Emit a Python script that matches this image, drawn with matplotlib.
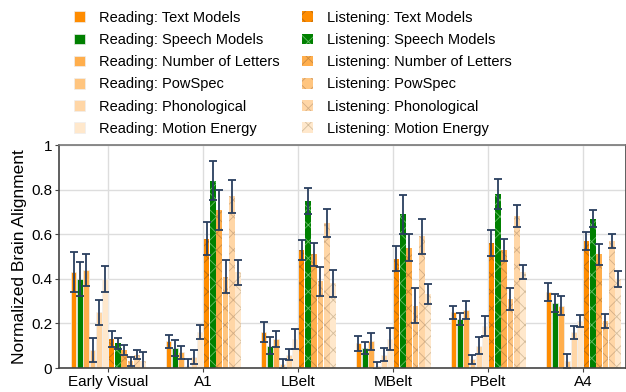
import numpy as np
import matplotlib
matplotlib.use('Agg')
import matplotlib.pyplot as plt
from matplotlib.patches import Patch

plt.rcParams['font.family'] = ['Liberation Sans', 'DejaVu Sans']
plt.rcParams['hatch.linewidth'] = 0.6

# Data
regions = ['Early Visual', 'A1', 'LBelt', 'MBelt', 'PBelt', 'A4']
features = ['Text Models', 'Speech Models', 'Number of Letters',
            'PowSpec', 'Phonological', 'Motion Energy']

# rows = feature, cols = region
reading_vals = [
    [0.43, 0.12, 0.16, 0.11, 0.25, 0.34],
    [0.40, 0.09, 0.10, 0.09, 0.22, 0.29],
    [0.44, 0.07, 0.13, 0.12, 0.26, 0.28],
    [0.08, 0.01, 0.02, 0.01, 0.04, 0.03],
    [0.25, 0.05, 0.06, 0.06, 0.10, 0.16],
    [0.40, 0.16, 0.13, 0.13, 0.19, 0.21],
]
reading_err = [
    [0.09, 0.03, 0.045, 0.034, 0.03, 0.041],
    [0.075, 0.034, 0.037, 0.026, 0.025, 0.041],
    [0.073, 0.03, 0.037, 0.039, 0.04, 0.041],
    [0.055, 0.03, 0.02, 0.015, 0.02, 0.032],
    [0.056, 0.03, 0.023, 0.028, 0.038, 0.03],
    [0.058, 0.032, 0.044, 0.048, 0.045, 0.026],
]
listening_vals = [
    [0.13, 0.58, 0.53, 0.49, 0.56, 0.57],
    [0.11, 0.84, 0.75, 0.69, 0.78, 0.67],
    [0.08, 0.71, 0.51, 0.54, 0.53, 0.51],
    [0.03, 0.41, 0.39, 0.28, 0.31, 0.21],
    [0.06, 0.77, 0.65, 0.59, 0.68, 0.57],
    [0.03, 0.43, 0.38, 0.33, 0.43, 0.40],
]
listening_err = [
    [0.034, 0.074, 0.045, 0.055, 0.058, 0.041],
    [0.025, 0.088, 0.059, 0.088, 0.066, 0.038],
    [0.023, 0.089, 0.051, 0.062, 0.05, 0.047],
    [0.019, 0.073, 0.065, 0.077, 0.048, 0.032],
    [0.02, 0.073, 0.064, 0.078, 0.049, 0.03],
    [0.04, 0.056, 0.06, 0.045, 0.03, 0.035],
]

colors = ['#ff8c00', '#008000', '#ffae4c', '#ffc57f', '#ffd6a6', '#ffe8cc']
hatch_colors = ['#b86a10', '#66bb66', '#c98a40', '#cc9a66', '#d2ad85', '#d4bd9c']

fig = plt.figure(figsize=(6.26, 3.92), dpi=100)
ax = fig.add_axes([59 / 626, 24 / 392, 567 / 626, 223 / 392])

x = np.arange(len(regions))
n_bars = 12
slot = 0.8 / n_bars
bw = slot * 0.92
err_kw = dict(ecolor='#2a3f5f', elinewidth=1.3, capsize=3, capthick=1.3)

handles = []
for i, f in enumerate(features):
    off = (i - n_bars / 2 + 0.5) * slot
    ax.bar(x + off, reading_vals[i], bw, color=colors[i],
           edgecolor='#eeeeee', linewidth=0.5, zorder=2,
           yerr=reading_err[i], error_kw=err_kw)
    handles.append(Patch(facecolor=colors[i], edgecolor='#eeeeee',
                         linewidth=0.5, label='Reading: ' + f))
for i, f in enumerate(features):
    off = (i + 6 - n_bars / 2 + 0.5) * slot
    ax.bar(x + off, listening_vals[i], bw, color=colors[i],
           edgecolor=hatch_colors[i], linewidth=0, hatch='xx', zorder=2,
           yerr=listening_err[i], error_kw=err_kw)
    handles.append(Patch(facecolor=colors[i], edgecolor=hatch_colors[i],
                         linewidth=0, hatch='xx', label='Listening: ' + f))

ax.set_xlim(-0.52, 5.45)
ax.set_ylim(0, 1)
ax.set_xticks(x)
ax.set_xticklabels(regions, fontsize=11)
ax.set_yticks([0, 0.2, 0.4, 0.6, 0.8, 1])
ax.set_yticklabels(['0', '0.2', '0.4', '0.6', '0.8', '1'], fontsize=11)
ax.tick_params(length=3, color='#444444', pad=2)
ax.set_ylabel('Normalized Brain Alignment', fontsize=12.5, labelpad=3)
ax.grid(True, color='#dddddd', linewidth=1, zorder=0)
ax.set_axisbelow(True)
for s in ax.spines.values():
    s.set_color('#444444')
    s.set_linewidth(1.2)
ax.spines['top'].set_color('#777777')

fig.legend(handles=handles, ncol=2, loc='upper left',
           bbox_to_anchor=(68 / 626, 1 - 5 / 392), frameon=False,
           fontsize=10.5, handlelength=0.75, handleheight=0.75,
           handletextpad=1.0, columnspacing=1.5, labelspacing=0.56,
           borderaxespad=0)

fig.savefig('out.png', dpi=100)
